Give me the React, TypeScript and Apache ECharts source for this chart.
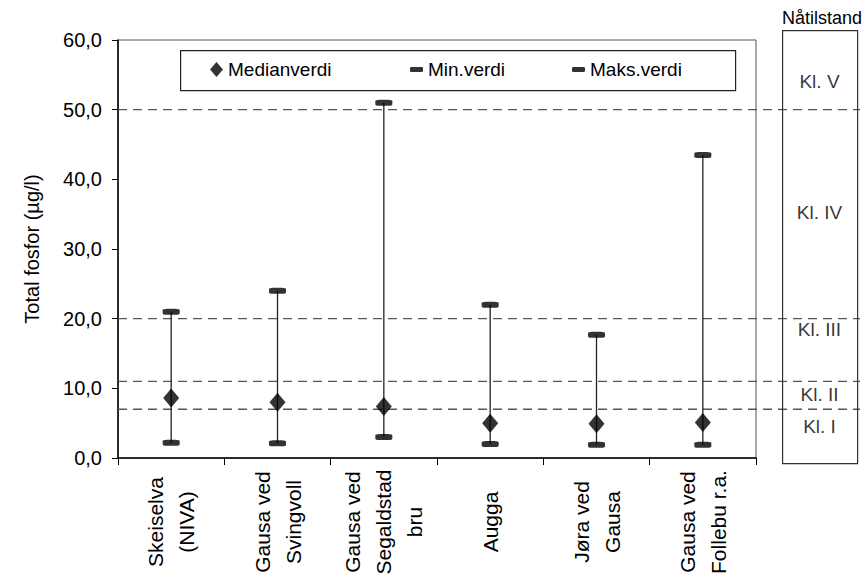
import React, { useEffect, useRef } from 'react';
import * as echarts from 'echarts';

const categories = [
  'Skeiselva\n(NIVA)',
  'Gausa ved\nSvingvoll',
  'Gausa ved\nSegaldstad\nbru',
  'Augga',
  'Jøra ved\nGausa',
  'Gausa ved\nFollebu r.a.',
];
const medianValues = [8.6, 8.0, 7.4, 5.0, 4.9, 5.1];
const minValues = [2.2, 2.1, 3.0, 2.0, 1.9, 1.9];
const maxValues = [21.0, 24.0, 51.0, 22.0, 17.7, 43.5];
const classLimits = [7, 11, 20, 50];
const classLabels = ['Kl. I', 'Kl. II', 'Kl. III', 'Kl. IV', 'Kl. V'];
const classLabelValues = [4.5, 9.1, 18.4, 35.2, 54.0];
const yMin = 0;
const yMax = 60;
const yInterval = 10;

const FONT = '"Liberation Sans", Arial, sans-serif';

export default function App() {
  const ref = useRef<HTMLDivElement>(null);
  useEffect(() => {
    const chart = echarts.init(ref.current!, null, { renderer: 'svg' });
    const limitSeries = classLimits.map((v) => ({
      type: 'line',
      xAxisIndex: 1,
      yAxisIndex: 1,
      data: [
        [0, v],
        [1, v],
      ],
      symbol: 'none',
      silent: true,
      lineStyle: { type: [9, 6], color: '#555', width: 1.3 },
      z: 1,
    }));
    chart.setOption({
      animation: false,
      backgroundColor: '#fff',
      textStyle: { fontFamily: FONT, color: '#000' },
      grid: [
        { left: 118, right: 110, top: 40, bottom: 127, show: true, borderColor: '#555', borderWidth: 1 },
        { left: 118, right: 6, top: 40, bottom: 127 },
        { left: 782, right: 9, top: 40, bottom: 127 },
      ],
      legend: [
        {
          left: 210, top: 60, padding: 0, selectedMode: false,
          data: [{ name: 'Medianverdi', icon: 'diamond' }],
          itemWidth: 13, itemHeight: 15,
          textStyle: { fontSize: 19, fontFamily: FONT, color: '#000' },
        },
        {
          left: 410, top: 60, padding: 0, selectedMode: false,
          data: [{ name: 'Min.verdi', icon: 'roundRect' }],
          itemWidth: 13, itemHeight: 5,
          textStyle: { fontSize: 19, fontFamily: FONT, color: '#000' },
        },
        {
          left: 572, top: 60, padding: 0, selectedMode: false,
          data: [{ name: 'Maks.verdi', icon: 'roundRect' }],
          itemWidth: 13, itemHeight: 5,
          textStyle: { fontSize: 19, fontFamily: FONT, color: '#000' },
        },
      ],
      graphic: [
        {
          type: 'rect', left: 180, top: 50, z: 5,
          shape: { width: 555, height: 40 },
          style: { fill: 'transparent', stroke: '#222', lineWidth: 1.2 },
        },
        {
          type: 'rect', left: 782, top: 30, z: 5,
          shape: { width: 75, height: 433 },
          style: { fill: 'transparent', stroke: '#333', lineWidth: 1.2 },
        },
        {
          type: 'text', x: 822, y: 18,
          style: {
            text: 'Nåtilstand', fontSize: 18, fontFamily: FONT, fill: '#000',
            textAlign: 'center', textVerticalAlign: 'middle',
          },
        },
      ],
      xAxis: [
        {
          gridIndex: 0, type: 'category', data: categories, boundaryGap: true,
          axisLine: { lineStyle: { color: '#000', width: 1.5 } },
          axisTick: { show: true, length: 7, lineStyle: { color: '#000' } },
          axisLabel: {
            interval: 0, rotate: 90, align: 'center', verticalAlign: 'middle',
            margin: 64, fontSize: 21, lineHeight: 31, color: '#000', fontFamily: FONT,
          },
          splitLine: { show: false },
        },
        { gridIndex: 1, type: 'value', min: 0, max: 1, show: false },
        { gridIndex: 2, type: 'category', data: ['Nåtilstand'], show: false },
      ],
      yAxis: [
        {
          gridIndex: 0, type: 'value', min: yMin, max: yMax, interval: yInterval,
          name: 'Total fosfor (µg/l)', nameLocation: 'middle', nameRotate: 90, nameGap: 76,
          nameTextStyle: { fontSize: 20, color: '#000', fontFamily: FONT },
          axisLine: { show: true, lineStyle: { color: '#000', width: 1.5 } },
          axisTick: { show: true, length: 6, lineStyle: { color: '#000' } },
          axisLabel: {
            formatter: (v: number) => v.toFixed(1).replace('.', ','),
            fontSize: 20, margin: 16, color: '#000', fontFamily: FONT,
          },
          splitLine: { show: false },
        },
        { gridIndex: 1, type: 'value', min: yMin, max: yMax, show: false },
        { gridIndex: 2, type: 'value', min: yMin, max: yMax, show: false },
      ],
      series: [
        ...limitSeries,
        {
          type: 'custom',
          xAxisIndex: 0,
          yAxisIndex: 0,
          data: categories.map((_, i) => [i, minValues[i], maxValues[i]]),
          encode: { x: 0, y: [1, 2] },
          renderItem: (params: any, api: any) => {
            const lo = api.coord([api.value(0), api.value(1)]);
            const hi = api.coord([api.value(0), api.value(2)]);
            return {
              type: 'line',
              shape: { x1: lo[0], y1: lo[1], x2: hi[0], y2: hi[1] },
              style: { stroke: '#222', lineWidth: 1.3 },
            };
          },
          silent: true,
          z: 3,
        },
        {
          name: 'Min.verdi', type: 'scatter', xAxisIndex: 0, yAxisIndex: 0,
          data: minValues, symbol: 'roundRect', symbolSize: [17, 6],
          itemStyle: { color: '#000' }, z: 4,
        },
        {
          name: 'Maks.verdi', type: 'scatter', xAxisIndex: 0, yAxisIndex: 0,
          data: maxValues, symbol: 'roundRect', symbolSize: [17, 6],
          itemStyle: { color: '#000' }, z: 4,
        },
        {
          name: 'Medianverdi', type: 'scatter', xAxisIndex: 0, yAxisIndex: 0,
          data: medianValues, symbol: 'diamond', symbolSize: [16, 19],
          itemStyle: { color: '#000' }, z: 5,
        },
        {
          type: 'scatter', xAxisIndex: 2, yAxisIndex: 2,
          data: classLabelValues.map((v, i) => ({ value: [0, v], name: classLabels[i] })),
          symbolSize: 1,
          itemStyle: { color: 'transparent' },
          label: {
            show: true, position: 'inside', formatter: '{b}',
            fontSize: 19, color: '#000', fontFamily: FONT,
          },
          silent: true,
          z: 6,
        },
      ],
    });
    return () => chart.dispose();
  }, []);
  return (
    <div
      ref={ref}
      style={{ position: 'fixed', left: 0, top: 0, width: 866, height: 585, background: '#fff' }}
    />
  );
}
